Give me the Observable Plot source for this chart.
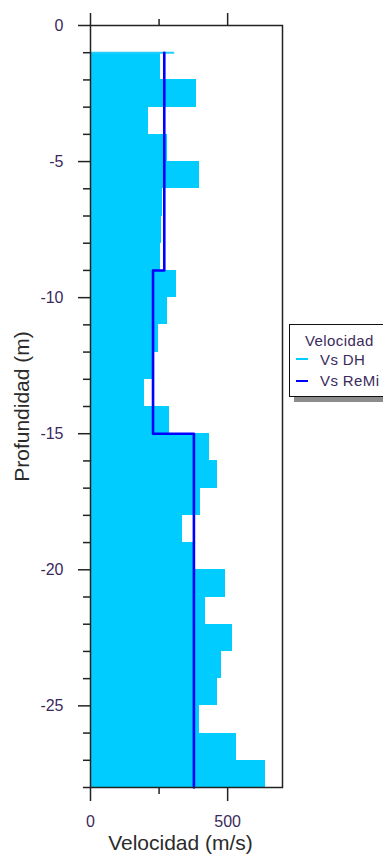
<!DOCTYPE html>
<html>
<head>
<meta charset="utf-8">
<script src="https://cdn.jsdelivr.net/npm/d3@7"></script>
<script src="https://cdn.jsdelivr.net/npm/@observablehq/plot@0.6"></script>
<style>
  html, body { margin: 0; padding: 0; background: #fff; overflow: hidden; }
  #wrap { position: relative; width: 383px; height: 854px; font-family: "Liberation Sans", Arial, sans-serif; }
  #legend {
    position: absolute; left: 289px; top: 324px; width: 110px; height: 71px;
    border: 1px solid #111; background: #fff; box-shadow: 5px 5px 0 #8c8c8c;
    font-size: 15px; color: #3c2a5c;
  }
  #legend .row { position: absolute; white-space: nowrap; line-height: 15px; letter-spacing: 0.4px; }
  #legend .sw { position: absolute; height: 2px; width: 12px; }
</style>
</head>
<body>
<div id="wrap"></div>
<script>
// ---- Data ----
// Vs DH: 1 m layers, top depth of each layer (m) and velocity (m/s)
const dhTop = [-1, -2, -3, -4, -5, -6, -7, -8, -9, -10, -11, -12, -13, -14, -15, -16, -17, -18, -19, -20, -21, -22, -23, -24, -25, -26, -27];
const dhVel = [255, 385, 210, 280, 396, 264, 260, 255, 312, 280, 249, 228, 197, 289, 434, 463, 401, 334, 376, 492, 419, 516, 478, 463, 396, 531, 638];
// thin surface segment of the DH profile at its top
const dhSurfaceDepth = [-1];
const dhSurfaceVel = [307];

// Vs ReMi layers
const remiTop = [-1, -9, -15];
const remiBottom = [-9, -15, -28];
const remiVel = [269, 228, 377];

// Axes
const xDomain = [0, 700];
const yDomain = [-28, 0];
const xMajorTicks = [0, 500];
const xMinorTicks = [250];
const yMajorTicks = [0, -5, -10, -15, -20, -25];
const yMinorTicks = d3.range(-28, 1).filter(d => !yMajorTicks.includes(d));
const xTitle = "Velocidad (m/s)";
const yTitle = "Profundidad (m)";

// Legend
const legendTitle = "Velocidad";
const seriesNames = ["Vs DH", "Vs ReMi"];
const seriesColors = ["#00ccff", "#0000ff"];

// ---- Build tables ----
const dhData = dhTop.map((t, i) => ({top: t, bottom: t - 1, vel: dhVel[i]}));
const dhSurface = dhSurfaceDepth.map((d, i) => ({depth: d, vel: dhSurfaceVel[i]}));
const remiLine = remiTop.flatMap((t, i) => [
  {depth: t, vel: remiVel[i]},
  {depth: remiBottom[i], vel: remiVel[i]}
]);

const axisColor = "#222";
const labelColor = "#3c2a5c";
const titleColor = "#2b2b2b";

const chart = Plot.plot({
  width: 383,
  height: 854,
  marginLeft: 90,
  marginRight: 101,
  marginTop: 25,
  marginBottom: 67,
  x: {domain: xDomain},
  y: {domain: yDomain},
  style: {fontFamily: "'Liberation Sans', Arial, sans-serif", background: "#fff", overflow: "visible"},
  marks: [
    Plot.rectX(dhData, {x: "vel", y1: "top", y2: "bottom", fill: seriesColors[0], shapeRendering: "crispEdges"}),
    Plot.ruleY(dhSurface, {y: "depth", x1: 0, x2: "vel", stroke: "#22ccff", strokeWidth: 2}),
    Plot.line(remiLine, {x: "vel", y: "depth", stroke: seriesColors[1], strokeWidth: 2.6, curve: "linear"}),
    Plot.frame({stroke: axisColor, strokeWidth: 1.5}),
    // left axis
    Plot.axisY(yMinorTicks, {anchor: "left", tickSize: 7, tickFormat: () => "", label: null, stroke: axisColor, strokeWidth: 1.5}),
    Plot.axisY(yMajorTicks, {anchor: "left", tickSize: 12, tickPadding: 15, tickFormat: d => String(d), label: null, fontSize: 16, stroke: axisColor, fill: labelColor, strokeWidth: 1.5}),
    // bottom axis
    Plot.axisX(xMinorTicks, {anchor: "bottom", tickSize: 7, tickFormat: () => "", label: null, stroke: axisColor, strokeWidth: 1.5}),
    Plot.axisX(xMajorTicks, {anchor: "bottom", tickSize: 14, tickPadding: 14, tickFormat: d => String(d), label: null, fontSize: 16, stroke: axisColor, fill: labelColor, strokeWidth: 1.5}),
    // top axis (ticks only)
    Plot.axisX(xMinorTicks, {anchor: "top", tickSize: 7, tickFormat: () => "", label: null, stroke: axisColor, strokeWidth: 1.5}),
    Plot.axisX(xMajorTicks, {anchor: "top", tickSize: 13, tickFormat: () => "", label: null, stroke: axisColor, strokeWidth: 1.5}),
    // titles
    Plot.text([xTitle], {text: d => d, frameAnchor: "bottom", textAnchor: "middle", lineAnchor: "middle", dy: 56, dx: -6, fontSize: 21, fill: titleColor}),
    Plot.text([yTitle], {text: d => d, frameAnchor: "left", textAnchor: "middle", lineAnchor: "middle", rotate: -90, dx: -68, fontSize: 21, fill: titleColor})
  ]
});

const wrap = document.getElementById("wrap");
wrap.appendChild(chart);

// ---- Legend (HTML overlay) ----
const legend = document.createElement("div");
legend.id = "legend";
const title = document.createElement("div");
title.className = "row";
title.style.left = "15px";
title.style.top = "8px";
title.textContent = legendTitle;
legend.appendChild(title);
seriesNames.forEach((name, i) => {
  const sw = document.createElement("div");
  sw.className = "sw";
  sw.style.left = "6px";
  sw.style.top = (32.5 + i * 22) + "px";
  sw.style.background = seriesColors[i];
  legend.appendChild(sw);
  const row = document.createElement("div");
  row.className = "row";
  row.style.left = "30px";
  row.style.top = (27 + i * 21) + "px";
  row.textContent = name;
  legend.appendChild(row);
});
wrap.appendChild(legend);
</script>
</body>
</html>
